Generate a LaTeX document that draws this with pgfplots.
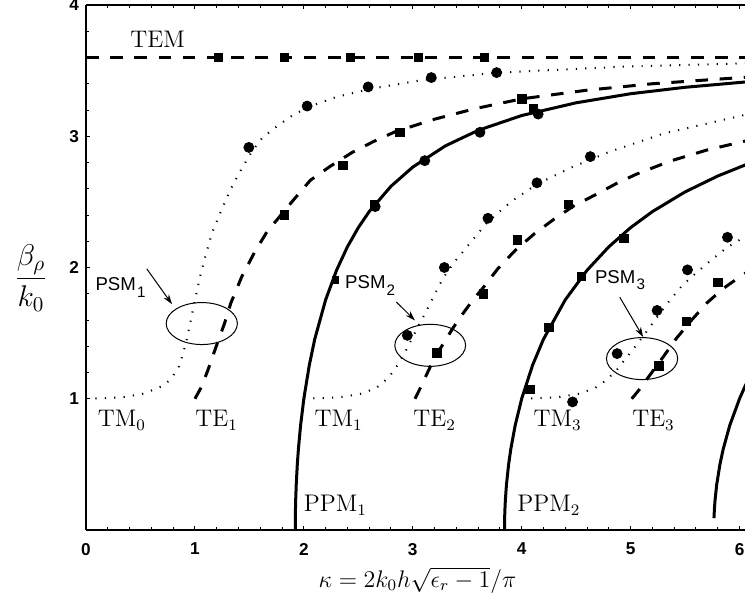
\RequirePackage{fix-cm}
\documentclass[border=0pt]{standalone}
\usepackage{fontspec}
\usepackage{pgfplots}
\pgfplotsset{compat=1.18}
\usetikzlibrary{arrows.meta}
\newfontfamily\helv{Liberation Sans}

% curve styles
\tikzset{
  ppm/.style={black, line width=1.5pt},
  temode/.style={black, line width=1.5pt, dash pattern=on 6.3pt off 5.8pt},
  tmmode/.style={black, line width=1pt, line cap=butt, dash pattern=on 0.6pt off 4.1pt},
  psm/.style={line width=0.5pt},
  psmarrow/.style={line width=0.5pt, -{Stealth[length=5pt,width=3.2pt]}},
  mlabel/.style={anchor=base, inner sep=0pt, font=\fontsize{12}{14}\selectfont},
  slabel/.style={anchor=base west, inner sep=0pt, font=\helv\fontsize{9.3}{11}\selectfont},
}
\newcommand{\psmsub}[1]{\kern0.6pt\raisebox{-3.3pt}{\fontsize{7.6}{8}\selectfont #1}}

\begin{document}
\begin{tikzpicture}
\begin{axis}[
  scale only axis, width=329.5pt, height=262.5pt,
  xmin=0, xmax=6.05, ymin=0, ymax=4,
  axis x line=box, axis y line=left, y axis line style={-},
  axis line style={line width=0.8pt},
  xtick={0,1,2,3,4,5,6}, ytick={1,2,3,4},
  minor tick num=4,
  tick align=inside,
  major tick length=2.2pt, minor tick length=1.3pt,
  tick style={line width=0.5pt, black},
  /pgf/number format/assume math mode=true,
  ticklabel style={font=\helv\bfseries\fontsize{8.6}{10}\selectfont},
  xticklabel style={yshift=-3pt},
  xlabel={$\kappa=2k_0h\sqrt{\epsilon_r-1}/\pi$},
  xlabel style={at={(axis description cs:0.503,0)}, anchor=base, yshift=-28.5pt,
    inner sep=0pt, font=\fontsize{12}{14}\selectfont},
  ylabel={$\displaystyle\frac{\beta_\rho}{k_0}$},
  ylabel style={rotate=-90, at={(axis description cs:0,0.48)}, anchor=center,
    xshift=-27.5pt, font=\fontsize{15}{18}\selectfont},
]

% TEM line
\addplot[temode] coordinates {(0,3.6) (6.06,3.6)};

% parallel-plate modes
\addplot[ppm] coordinates {
 (1.9211,0) (1.922,0.11) (1.923,0.158) (1.925,0.228) (1.93,0.345) (1.94,0.501)
 (1.95,0.617) (1.97,0.797) (2.0,1.001) (2.05,1.256) (2.1,1.454) (2.2,1.754)
 (2.3,1.979) (2.4,2.158) (2.5,2.304) (2.6,2.426) (2.8,2.619) (3.0,2.765)
 (3.3,2.927) (3.6,3.045) (4.0,3.158) (4.5,3.255) (5.0,3.324) (5.5,3.373) (6.06,3.414)};
\addplot[ppm] coordinates {
 (3.842,0) (3.844,0.11) (3.846,0.158) (3.85,0.228) (3.86,0.345) (3.88,0.501)
 (3.9,0.617) (3.94,0.797) (4.0,1.001) (4.1,1.256) (4.2,1.454) (4.4,1.754)
 (4.6,1.979) (4.8,2.158) (5.0,2.304) (5.2,2.426) (5.5,2.576) (5.8,2.697) (6.06,2.784)};
\addplot[ppm] coordinates {
 (5.765,0.09) (5.769,0.158) (5.775,0.228) (5.79,0.345) (5.82,0.501)
 (5.85,0.617) (5.91,0.797) (6.0,1.001) (6.06,1.113)};

% TM surface-wave modes
\addplot[tmmode] coordinates {
 (0,1) (0.32,1.01) (0.51,1.035) (0.64,1.075) (0.71,1.10) (0.78,1.15) (0.85,1.24)
 (0.89,1.34) (0.93,1.47) (0.97,1.63) (1.01,1.79) (1.05,1.94) (1.10,2.10)
 (1.16,2.27) (1.24,2.43) (1.33,2.60) (1.42,2.74) (1.52,2.88) (1.62,2.99)
 (1.76,3.08) (1.88,3.15) (2.03,3.22) (2.3,3.30) (2.64,3.365) (3.1,3.43)
 (3.79,3.485) (4.93,3.53) (6.06,3.555)};
\addplot[tmmode] coordinates {
 (2.0,1.0) (2.32,1.01) (2.52,1.037) (2.66,1.08) (2.73,1.125) (2.82,1.205)
 (2.87,1.27) (2.935,1.365) (3.0,1.47) (3.06,1.57) (3.12,1.66) (3.18,1.76)
 (3.24,1.86) (3.31,1.96) (3.40,2.06) (3.52,2.18) (3.69,2.35) (3.90,2.50)
 (4.14,2.635) (4.45,2.76) (4.80,2.88) (5.3,3.02) (6.06,3.165)};
\addplot[tmmode] coordinates {
 (4.0,1.0) (4.32,1.01) (4.52,1.037) (4.67,1.08) (4.75,1.126) (4.86,1.205)
 (4.92,1.27) (5.01,1.363) (5.14,1.505) (5.25,1.63) (5.36,1.75) (5.47,1.86)
 (5.59,1.95) (5.73,2.05) (5.88,2.15) (6.06,2.24)};

% TE surface-wave modes
\addplot[temode] coordinates {
 (1.0,1.0) (1.06,1.09) (1.12,1.22) (1.20,1.41) (1.27,1.57) (1.33,1.73)
 (1.43,1.93) (1.55,2.12) (1.66,2.27) (1.80,2.41) (1.90,2.51) (2.06,2.665)
 (2.24,2.77) (2.44,2.875) (2.64,2.96) (2.84,3.035) (3.2,3.13) (3.57,3.21)
 (4.0,3.285) (4.59,3.35) (5.2,3.40) (6.06,3.45)};
\addplot[temode] coordinates {
 (3.02,1.0) (3.08,1.10) (3.13,1.19) (3.19,1.295) (3.28,1.42) (3.37,1.54)
 (3.47,1.66) (3.55,1.75) (3.65,1.85) (3.78,1.99) (3.94,2.13) (4.12,2.26)
 (4.30,2.37) (4.47,2.465) (4.69,2.56) (4.87,2.64) (5.05,2.71) (5.36,2.81)
 (5.70,2.895) (6.06,2.965)};
\addplot[temode] coordinates {
 (5.01,1.0) (5.08,1.07) (5.15,1.15) (5.23,1.24) (5.30,1.32) (5.42,1.46)
 (5.56,1.60) (5.70,1.73) (5.85,1.84) (5.97,1.91) (6.06,1.96)};

% full-wave results: squares
\addplot[only marks, mark=square*, mark size=2.1pt, black] coordinates {
 (1.213,3.6) (1.82,3.6) (2.43,3.6) (3.05,3.6) (3.66,3.6)
 (1.82,2.40) (2.36,2.78) (2.88,3.03) (4.00,3.285)
 (2.65,2.48) (4.11,3.21)
 (3.22,1.35) (3.65,1.80) (3.96,2.21) (4.43,2.48)
 (4.075,1.07) (4.25,1.545) (4.55,1.93) (4.94,2.22)
 (5.26,1.25) (5.51,1.59) (5.80,1.885)};
\addplot[only marks, mark=square*, mark size=1.6pt, black] coordinates {(2.29,1.905)};

% full-wave results: circles
\addplot[only marks, mark=*, mark size=2.5pt, black] coordinates {
 (1.495,2.915) (2.03,3.23) (2.59,3.376) (3.17,3.447) (3.77,3.485)
 (2.655,2.464) (3.11,2.814) (3.617,3.03) (4.151,3.169)
 (2.95,1.483) (3.29,2.00) (3.69,2.375) (4.14,2.645) (4.63,2.845)
 (4.467,0.976) (4.876,1.344) (5.243,1.673) (5.522,1.982) (5.889,2.23)};

% mode names
\node[mlabel] at (axis cs:0.658,3.675) {$\mathrm{TEM}$};
\node[mlabel] at (axis cs:0.33,0.786) {$\mathrm{TM}_0$};
\node[mlabel] at (axis cs:1.20,0.786) {$\mathrm{TE}_1$};
\node[mlabel] at (axis cs:2.32,0.786) {$\mathrm{TM}_1$};
\node[mlabel] at (axis cs:3.20,0.786) {$\mathrm{TE}_2$};
\node[mlabel] at (axis cs:4.33,0.786) {$\mathrm{TM}_3$};
\node[mlabel] at (axis cs:5.21,0.786) {$\mathrm{TE}_3$};
\node[mlabel] at (axis cs:2.29,0.139) {$\mathrm{PPM}_1$};
\node[mlabel] at (axis cs:4.25,0.139) {$\mathrm{PPM}_2$};

% phase-matched crossings
\draw[psm] (axis cs:1.063,1.573) ellipse [x radius=17.8pt, y radius=10.5pt];
\draw[psm] (axis cs:3.16,1.407) ellipse [x radius=17.7pt, y radius=10.5pt];
\draw[psm] (axis cs:5.105,1.306) ellipse [x radius=17.8pt, y radius=10.5pt];
\node[slabel] at (axis cs:0.084,1.825) {PSM\psmsub{1}};
\node[slabel] at (axis cs:2.376,1.84) {PSM\psmsub{2}};
\node[slabel] at (axis cs:4.67,1.88) {PSM\psmsub{3}};
\draw[psmarrow] (axis cs:0.558,1.99) -- (axis cs:0.79,1.72);
\draw[psmarrow] (axis cs:2.85,1.737) -- (axis cs:3.02,1.597);
\draw[psmarrow] (axis cs:4.90,1.774) -- (axis cs:5.115,1.47);
\end{axis}
\pgfresetboundingbox
\path[use as bounding box] ([xshift=-43pt,yshift=-35.5pt]current axis.south west)
  rectangle ([yshift=2.5pt]current axis.north east);
\end{tikzpicture}
\end{document}
